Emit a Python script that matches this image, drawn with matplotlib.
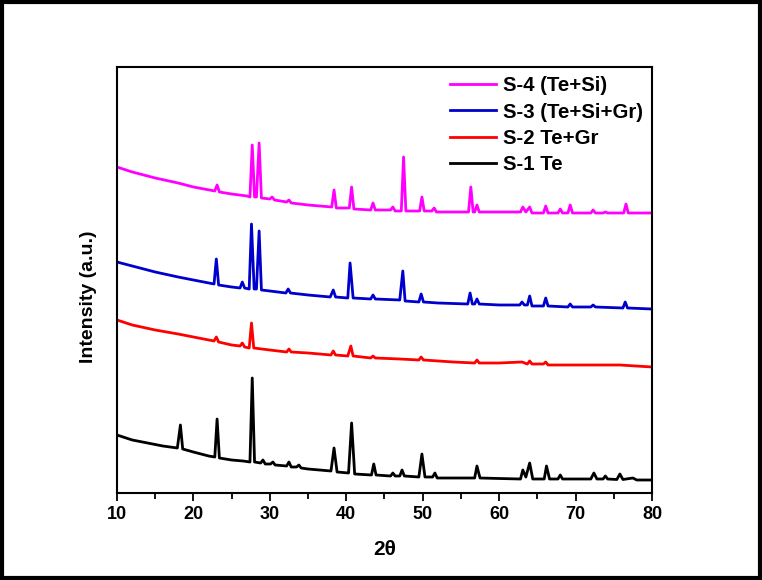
import matplotlib
matplotlib.use("Agg")
import matplotlib.pyplot as plt
from matplotlib.patches import Rectangle
from matplotlib.ticker import MultipleLocator

# ===============================
# XRD patterns (2theta, intensity a.u.)
# ===============================
s1_tt = [10, 12, 14, 16, 17.9, 18.3, 18.6, 20, 22, 22.8, 23.1, 23.4, 25, 26.5, 27.4, 27.7, 28.0,
         28.8, 29.1, 29.4, 30.1, 30.4, 30.7, 32.2, 32.5, 32.8, 33.5, 33.8, 34.1, 35, 36.5, 38.0,
         38.4, 38.8, 40.3, 40.7, 41.1, 43.3, 43.6, 43.9, 45.8, 46.1, 46.4, 47.0, 47.3, 47.6, 49.5,
         49.9, 50.3, 51.3, 51.6, 51.9, 54, 56.8, 57.1, 57.5, 60, 62.8, 63.1, 63.5, 64.0, 64.4, 65.9,
         66.2, 66.6, 67.7, 68.0, 68.3, 70, 72.0, 72.4, 72.8, 73.6, 73.9, 74.2, 75.4, 75.8, 76.2,
         77.5, 78, 80]
s1_int = [58, 53, 50, 47, 45, 68, 44, 41, 37, 36, 74, 35, 33, 32, 31, 115, 31,
          30, 33, 29, 29, 31, 28, 27, 31, 26, 26, 28, 25, 24, 23, 22,
          45, 21, 20, 70, 19, 18, 29, 18, 17, 20, 17, 17, 23, 17, 16,
          39, 16, 16, 20, 15, 15, 15, 27, 15, 14.5, 14, 23, 16, 30, 14, 14,
          27, 14, 14, 18, 14, 14, 14, 20, 14, 14, 17, 14, 13.5, 19, 13.5,
          15, 13, 13]

s2_tt = [10, 12, 15, 18, 20, 22.7, 23.0, 23.3, 25, 26.1, 26.4, 26.7, 27.3, 27.6, 27.9, 30, 32.2,
         32.5, 32.8, 35, 38.0, 38.3, 38.6, 40.2, 40.6, 40.9, 43.2, 43.5, 43.8, 47, 49.5, 49.8,
         50.1, 54, 56.8, 57.1, 57.4, 60, 63.0, 63.7, 64.0, 64.3, 65.8, 66.1, 66.4, 70, 75.8, 80]
s2_int = [173, 168, 163, 159, 156, 152, 156, 151, 148, 147, 150, 146, 145, 170, 145, 143, 141,
          144, 141, 140, 138, 142, 138, 137, 147, 137, 135, 137, 135, 134, 133, 136,
          133, 131, 130, 133, 130, 130, 131, 129, 132, 129, 129, 131, 128, 128, 128, 126]

s3_tt = [10, 12, 15, 18, 20, 22.7, 23.0, 23.3, 25, 26.1, 26.4, 26.7, 27.3, 27.6, 27.95, 28.25,
         28.6, 28.9, 30, 32.1, 32.4, 32.7, 35, 37.9, 38.3, 38.6, 40.2, 40.5, 40.9, 43.2, 43.5,
         43.8, 47.0, 47.4, 47.7, 49.5, 49.8, 50.1, 52, 55.9, 56.2, 56.5, 56.8, 57.1, 57.4, 60,
         62.7, 63.0, 63.3, 63.7, 64.0, 64.3, 65.8, 66.1, 66.4, 69.0, 69.3, 69.6, 72.0, 72.3, 72.6,
         76.2, 76.5, 76.8, 80]
s3_int = [231, 227, 221, 216, 213, 209, 234, 208, 206, 205, 211, 205, 204, 269, 204, 204,
          262, 203, 202, 200, 204, 200, 198, 196, 203, 196, 195, 230, 195, 194, 198,
          194, 193, 222, 192, 191, 199, 191, 190, 189, 200, 189, 189, 194, 189, 188,
          188, 191, 188, 188, 197, 187, 187, 195, 187, 186, 189, 186, 186, 188, 186,
          185, 191, 185, 184]

s4_tt = [10, 12, 15, 18, 20, 22.8, 23.1, 23.4, 25, 27.0, 27.4, 27.7, 28.0, 28.25, 28.6, 28.9,
         30.0, 30.3, 30.6, 32.2, 32.5, 32.8, 35, 38.1, 38.4, 38.7, 40.4, 40.7, 41.0, 43.2, 43.5,
         43.8, 45.8, 46.1, 46.4, 47.2, 47.5, 47.8, 49.6, 49.9, 50.2, 51.2, 51.5, 51.8, 56.0, 56.3,
         56.6, 56.8, 57.1, 57.4, 60, 62.8, 63.1, 63.5, 64.0, 64.3, 65.8, 66.1, 66.4, 67.7, 68.0,
         68.3, 69.0, 69.3, 69.6, 72.0, 72.3, 72.6, 73.6, 73.9, 74.2, 76.3, 76.6, 76.9, 80]
s4_int = [326, 321, 315, 310, 306, 302, 308, 301, 299, 297, 296, 348, 296, 296, 350, 295,
          294, 296, 293, 291, 293, 290, 288, 286, 303, 285, 285, 306, 284, 283, 290,
          283, 283, 286, 282, 282, 336, 282, 282, 296, 282, 282, 285, 281, 281, 306,
          281, 281, 288, 281, 281, 281, 286, 281, 286, 280, 280, 287, 280, 280, 284,
          280, 280, 288, 280, 280, 283, 280, 280, 281, 280, 280, 289, 280, 280]

labels = ["S-1 Te", "S-2 Te+Gr", "S-3 (Te+Si+Gr)", "S-4 (Te+Si)"]
colors = ["black", "#ff0000", "#0000cc", "#ff00ff"]

# ===============================
# Plot
# ===============================
plt.rcParams['font.family'] = ['Liberation Sans', 'DejaVu Sans']
plt.rcParams['font.weight'] = 'bold'

fig = plt.figure(figsize=(7.62, 5.80), dpi=100)
ax = fig.add_axes([0.1535, 0.15, 0.7021, 0.7345])

series = [(s1_tt, s1_int), (s2_tt, s2_int), (s3_tt, s3_int), (s4_tt, s4_int)]
handles = []
for (tt, inten), lab, col in zip(series, labels, colors):
    h, = ax.plot(tt, inten, color=col, lw=2.0, label=lab)
    handles.append(h)

ax.set_xlim(10, 80)
ax.set_ylim(0, 426)
ax.xaxis.set_major_locator(MultipleLocator(10))
ax.xaxis.set_minor_locator(MultipleLocator(5))
ax.tick_params(axis='x', which='major', direction='out', length=6, width=1.3)
ax.tick_params(axis='x', which='minor', direction='out', length=4, width=1.3)
ax.set_yticks([])
for sp in ax.spines.values():
    sp.set_linewidth(1.5)

narrow = ['Liberation Sans Narrow', 'Liberation Sans']
for t in ax.get_xticklabels():
    t.set_family(narrow)
    t.set_fontsize(13)
    t.set_fontweight('bold')

ax.set_xlabel("2θ", fontsize=15, fontweight='bold', family=narrow, labelpad=12)
ax.set_ylabel("Intensity (a.u.)", fontsize=14, fontweight='bold')
ax.yaxis.set_label_coords(-0.038, 0.46)

ax.legend(handles[::-1], labels[::-1], loc='upper right', bbox_to_anchor=(1.0, 1.0),
          frameon=False, fontsize=14.7, handlelength=2.25, handletextpad=0.35,
          labelspacing=0.36, borderaxespad=0.05)

# outer frame around the whole picture
fig.patches.append(Rectangle((0.003, 0.004), 0.994, 0.992, transform=fig.transFigure,
                             fill=False, edgecolor='black', lw=3))

fig.savefig("out.png", dpi=100)
